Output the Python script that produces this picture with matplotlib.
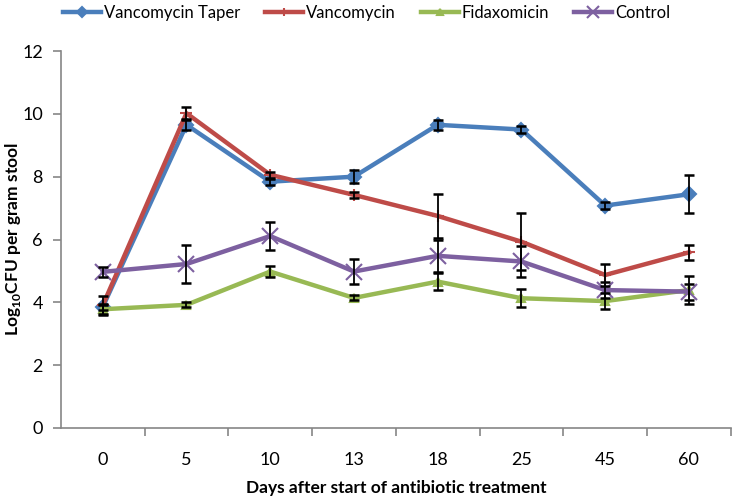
import numpy as np
import matplotlib.pyplot as plt

plt.rcParams['font.family'] = ['Lato', 'DejaVu Sans']
plt.rcParams['mathtext.fontset'] = 'custom'
plt.rcParams['mathtext.rm'] = 'Lato'
plt.rcParams['mathtext.bf'] = 'Lato:bold'

# dados
days = ['0', '5', '10', '13', '18', '25', '45', '60']

taper = [3.85, 9.65, 7.84, 8.0, 9.65, 9.5, 7.08, 7.44]
taper_err = [0.1, 0.15, 0.1, 0.2, 0.15, 0.12, 0.1, 0.6]

vanco = [3.9, 10.02, 8.06, 7.42, 6.75, 5.93, 4.87, 5.59]
vanco_err = [0.3, 0.2, 0.1, 0.1, 0.7, 0.9, 0.35, 0.25]

fidax = [3.78, 3.92, 4.98, 4.14, 4.66, 4.13, 4.04, 4.39]
fidax_err = [0.15, 0.08, 0.17, 0.08, 0.28, 0.28, 0.25, 0.45]

control = [4.97, 5.22, 6.11, 4.98, 5.48, 5.3, 4.39, 4.34]
control_err = [0.15, 0.6, 0.45, 0.4, 0.5, 0.5, 0.25, 0.25]

# -------------------------------------------------------
fig = plt.figure(figsize=(7.33, 5.0), dpi=100)
ax = fig.add_axes([0.083, 0.144, 0.914, 0.754])

x = np.arange(len(days))

series = [
    (taper, taper_err, 'Vancomycin Taper', '#4a7ebb', 'D', 7),
    (vanco, vanco_err, 'Vancomycin', '#be4b48', '+', 8),
    (fidax, fidax_err, 'Fidaxomicin', '#98b954', '^', 6),
    (control, control_err, 'Control', '#7d60a0', 'x', 11),
]

handles = []
for vals, err, lab, cor, mk, ms in series:
    ax.errorbar(x, vals, yerr=err, fmt='none', ecolor='black', elinewidth=1.3,
                capsize=3.5, capthick=1.8, zorder=3)
    h, = ax.plot(x, vals, color=cor, lw=3.2, marker=mk, markersize=ms,
                 markeredgewidth=1.5, markeredgecolor=cor, label=lab, zorder=2)
    handles.append(h)

ax.set_xlim(-0.5, 7.5)
ax.set_ylim(0, 12)
ax.set_yticks(np.arange(0, 13, 2))
ax.set_xticks(x)
ax.set_xticklabels(days)
ax.set_xticks(np.arange(0.5, 8, 1), minor=True)
ax.tick_params(axis='x', which='major', length=0, pad=17, labelsize=13)
ax.tick_params(axis='x', which='minor', length=6, color='#868686', width=1.2)
ax.tick_params(axis='y', length=6, color='#868686', width=1.2, labelsize=13, pad=7)

for s in ['top', 'right']:
    ax.spines[s].set_visible(False)
for s in ['left', 'bottom']:
    ax.spines[s].set_color('#868686')
    ax.spines[s].set_linewidth(1.2)

ax.set_xlabel('Days after start of antibiotic treatment', fontsize=12.5,
              fontweight='bold', labelpad=9)
ax.set_ylabel(r'Log$_{\mathbf{10}}$CFU per gram stool', fontsize=12.5,
              fontweight='bold')
ax.yaxis.set_label_coords(-0.056, 0.5)

fig.legend(handles=handles, loc='upper center', bbox_to_anchor=(0.5, 1.02),
           ncol=4, frameon=False, fontsize=12, handlelength=2.3,
           handletextpad=0.15, columnspacing=1.5, markerscale=0.8)

plt.savefig('out.png', dpi=100)
